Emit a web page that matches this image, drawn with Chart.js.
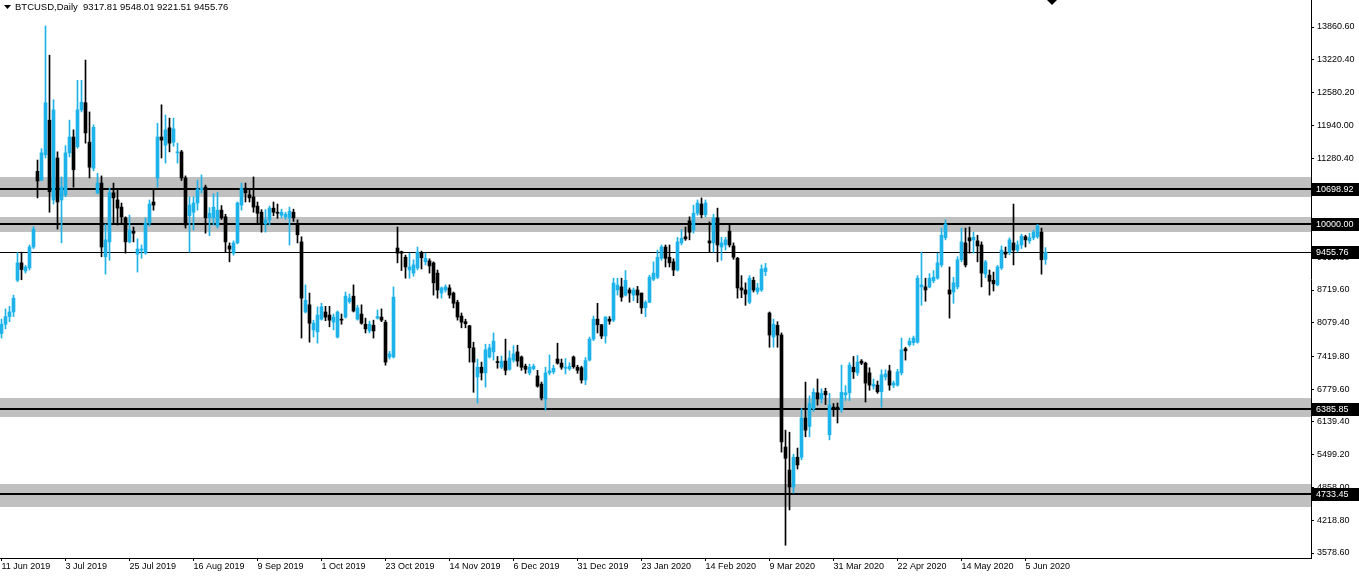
<!DOCTYPE html>
<html>
<head>
<meta charset="utf-8">
<script src="https://cdn.jsdelivr.net/npm/chart.js@4.4.1/dist/chart.umd.min.js"></script>
<style>
  html, body { margin: 0; padding: 0; background: #fff; }
</style>
</head>
<body>
<canvas id="chart" width="1359" height="578"></canvas>
<script>
// BTCUSD daily candles, 11 Jun 2019 .. 12 Jun 2020 (weekdays only)
const opens = [
  7870, 8050, 8200, 8290, 8910, 9250, 9090, 9150, 9560, 11040,
  10870, 11360, 12040, 10480, 11300, 10480, 10580, 11400, 11710, 11520,
  12240, 12380, 11610, 11100, 10620, 10810, 9370, 9660, 10620, 10480,
  10340, 10130, 9660, 9870, 9420, 9500, 9440, 10030, 10440, 10910,
  11710, 11550, 11890, 11610, 11400, 11420, 10910, 10170, 10240, 10420,
  10680, 10730, 10130, 10130, 9970, 10280, 10150, 9580, 9440, 9640,
  10380, 10710, 10580, 10540, 10360, 10240, 10010, 10090, 10320, 10230,
  10180, 10150, 10130, 10240, 9990, 9660, 8290, 8430, 7940, 7900,
  8150, 8290, 8230, 8090, 7800, 8150, 8190, 8490, 8600, 8150,
  8250, 8050, 7920, 8030, 8170, 8190, 8090, 7410, 7410, 9540,
  9470, 9360, 9110, 9050, 9150, 9440, 9270, 9290, 9250, 9050,
  8660, 8720, 8760, 8660, 8480, 8210, 8100, 8020, 7590, 7020,
  7210, 7100, 7410, 7510, 7320, 7210, 7330, 7170, 7350, 7510,
  7410, 7230, 7100, 7180, 7040, 6880, 6590, 7100, 7120, 7370,
  7290, 7190, 7180, 7410, 7210, 7200, 6960, 7350, 7760, 8150,
  8040, 7820, 8150, 8130, 8720, 8780, 8620, 8720, 8620, 8720,
  8660, 8370, 8480, 8930, 8970, 9340, 9560, 9360, 9270, 9110,
  9640, 9760, 10070, 9890, 10220, 10400, 10190, 9680, 9640, 10130,
  9560, 9600, 9870, 9580, 9340, 8760, 8720, 8480, 8910, 8690,
  8720, 9080, 8270, 7800, 8030, 7840, 5650, 5200, 4870, 5450,
  5450, 6220, 6050, 6400, 6710, 6590, 6740, 5890, 6430, 6430,
  6380, 6670, 6710, 7210, 7100, 7330, 7290, 7100, 6840, 6860,
  6730, 7020, 7140, 6860, 6860, 7100, 7570, 7650, 7690, 7700,
  8780, 8780, 8780, 8900, 8950, 9210, 9740, 8720, 8680, 8780,
  9310, 9640, 9740, 9700, 9680, 9600, 9030, 9010, 8910, 8820,
  9150, 9460, 9460, 9640, 9500, 9600, 9760, 9680, 9740, 9760,
  9850, 9317.81
];
const highs = [
  8150, 8350, 8400, 8620, 9450, 9460, 9200, 9600, 9960, 11260,
  11480, 13880, 13310, 12440, 11420, 10930, 11540, 12040, 11850, 12820,
  12820, 13215, 12200, 11950, 11000, 10950, 10010, 10710, 10810, 10700,
  10420, 10150, 10185, 9950, 9720, 9600, 10130, 10480, 10680, 11980,
  12340, 12140, 12080, 12080, 11590, 11450, 10950, 10540, 10540, 10870,
  10970, 10770, 10330, 10600, 10630, 10370, 10200, 9640, 9680, 10440,
  10810, 10810, 10680, 10930, 10440, 10290, 10290, 10360, 10440, 10400,
  10300, 10240, 10340, 10300, 10090, 9760, 8820, 8660, 8130, 8390,
  8460, 8400, 8400, 8250, 8310, 8250, 8680, 8640, 8820, 8420,
  8430, 8170, 8110, 8130, 8330, 8350, 8130, 7520, 8780, 9950,
  9480, 9400, 9440, 9310, 9560, 9480, 9440, 9330, 9270, 9110,
  8780, 8820, 8820, 8680, 8520, 8270, 8150, 8030, 7700, 7370,
  7310, 7660, 7660, 7880, 7420, 7430, 7760, 7530, 7630, 7640,
  7430, 7270, 7270, 7270, 7150, 6920, 7210, 7450, 7250, 7680,
  7370, 7380, 7300, 7430, 7250, 7230, 7400, 7800, 8210, 8460,
  8050, 8200, 8200, 8950, 8950, 8950, 9100, 8760, 8760, 8790,
  8660, 8510, 9010, 9270, 9500, 9600, 9600, 9600, 9330, 9750,
  9900, 9950, 10150, 10380, 10480, 10520, 10480, 10050, 10200, 10320,
  9750, 9750, 10000, 9640, 9360, 9000, 8860, 9000, 8970, 8850,
  9210, 9240, 8290, 8150, 8100, 7880, 5980, 5940, 5510, 5630,
  6400, 6920, 6650, 6790, 6980, 6790, 6800, 6700, 6500, 6510,
  7250, 6850, 7300, 7420, 7440, 7360, 7310, 7200, 6980, 6940,
  7160, 7160, 7250, 6940, 7170, 7780, 7600, 7780, 7820, 9000,
  9460, 8950, 9040, 9100, 9440, 9930, 10090, 9170, 8970, 9370,
  9930, 9930, 9950, 9850, 9790, 9660, 9300, 9110, 9070, 9200,
  9580, 9560, 9740, 10400, 9680, 9810, 9790, 9830, 9890, 10000,
  9930, 9548.01
];
const lows = [
  7780, 7960, 8100, 8200, 8880, 8920, 9050, 9110, 9530, 10520,
  10850, 11300, 10240, 10400, 9910, 9640, 10540, 11320, 10730, 11490,
  12200, 11590, 10910, 11050, 10600, 9370, 9030, 9300, 10030, 9990,
  10030, 9440, 9640, 9660, 9070, 9340, 9420, 9970, 10280, 10730,
  11300, 11200, 11420, 11530, 11200, 10860, 9930, 9460, 9890, 10280,
  10620, 9830, 9780, 9990, 9930, 10100, 9460, 9270, 9400, 9620,
  10280, 10440, 10440, 10240, 10000, 9850, 9850, 9990, 10170, 10120,
  10130, 10100, 9600, 10060, 9640, 7780, 8270, 7700, 7800, 7680,
  8130, 8120, 8000, 7940, 7780, 8050, 8170, 8460, 8290, 8130,
  8050, 7880, 7880, 7780, 8150, 8100, 7250, 7370, 7390, 9250,
  9100, 8950, 8950, 8990, 9110, 9130, 9210, 9050, 8620, 8560,
  8560, 8680, 8560, 8370, 8130, 7980, 7980, 7310, 6720, 6510,
  6960, 6820, 7390, 7350, 7190, 7180, 7060, 7150, 7310, 7230,
  7150, 7090, 7060, 7160, 6820, 6570, 6370, 7060, 7080, 7270,
  7170, 7080, 7150, 7190, 7090, 6900, 6870, 7330, 7730, 7880,
  7770, 7680, 8050, 8100, 8620, 8500, 8600, 8480, 8510, 8470,
  8260, 8200, 8470, 8900, 8940, 9300, 9170, 9170, 9000, 9090,
  9600, 9690, 9700, 9830, 10180, 10130, 10150, 9460, 9460, 9270,
  9300, 9500, 9560, 9320, 8560, 8570, 8420, 8450, 8680, 8640,
  8690, 9000, 7600, 7600, 7600, 5550, 3730, 4420, 4750, 5220,
  5400, 5850, 5850, 6350, 6470, 6510, 6480, 5790, 6250, 6120,
  6330, 6560, 6560, 6990, 7050, 7260, 6530, 6760, 6780, 6700,
  6430, 6960, 6760, 6810, 6840, 7060, 7350, 7620, 7640, 7680,
  8420, 8500, 8760, 8860, 8930, 9170, 9700, 8170, 8460, 8740,
  9270, 9170, 9440, 9440, 9270, 8780, 8960, 8620, 8700, 8800,
  9120, 9350, 9410, 9210, 9460, 9530, 9560, 9630, 9700, 9730,
  9030, 9221.51
];
const closes = [
  8050, 8200, 8290, 8560, 9250, 9120, 9170, 9560, 9910, 10850,
  11400, 12380, 10640, 12240, 10440, 10730, 11400, 11710, 11070, 12240,
  12390, 11790, 11120, 11900, 10810, 9560, 9700, 10620, 10520, 10320,
  10150, 9660, 9890, 9830, 9520, 9520, 10030, 10400, 10380, 11710,
  11650, 11850, 11590, 11870, 11420, 10910, 9990, 10380, 10420, 10690,
  10710, 10130, 10220, 10340, 10280, 10130, 9660, 9520, 9640, 10420,
  10710, 10620, 10520, 10340, 10220, 10030, 10090, 10320, 10240, 10220,
  10240, 10200, 10260, 10130, 9800, 8560, 8520, 8070, 8070, 8230,
  8390, 8190, 8130, 8190, 8290, 8130, 8600, 8560, 8310, 8370,
  8070, 7960, 8050, 7920, 8200, 8130, 7310, 7470, 8580, 9440,
  9440, 9170, 9170, 9210, 9460, 9350, 9340, 9190, 8860, 8720,
  8760, 8780, 8620, 8460, 8190, 8090, 8060, 7590, 7310, 7210,
  7100, 7550, 7590, 7720, 7300, 7330, 7150, 7390, 7470, 7330,
  7210, 7170, 7210, 7230, 6840, 6610, 7100, 7140, 7190, 7290,
  7210, 7210, 7230, 7220, 7150, 6960, 7340, 7760, 8150, 8040,
  7820, 8190, 8110, 8855, 8816, 8580, 8910, 8660, 8720, 8620,
  8370, 8480, 8970, 9050, 9360, 9560, 9340, 9250, 9110, 9660,
  9730, 9720, 9850, 10220, 10420, 10190, 10420, 9640, 10130, 9600,
  9640, 9700, 9600, 9360, 8760, 8720, 8640, 8950, 8720, 8760,
  9130, 9150, 7840, 8050, 7840, 5750, 5430, 4870, 5450, 5300,
  6220, 5980, 6500, 6720, 6590, 6700, 6670, 6470, 6380, 6380,
  6720, 6710, 7250, 7120, 7310, 7290, 6900, 6860, 6880, 6730,
  7060, 7080, 6860, 6900, 7120, 7550, 7530, 7720, 7780, 8950,
  8820, 8720, 8950, 8970, 9250, 9790, 10010, 8640, 8860, 9310,
  9660, 9210, 9680, 9750, 9580, 9050, 9270, 8890, 8840, 9170,
  9500, 9420, 9700, 9500, 9600, 9770, 9700, 9740, 9850, 9970,
  9310, 9455.76
];

// x-axis labels, one every 16 bars
const dateLabels = [
  '11 Jun 2019', '3 Jul 2019', '25 Jul 2019', '16 Aug 2019', '9 Sep 2019',
  '1 Oct 2019', '23 Oct 2019', '14 Nov 2019', '6 Dec 2019', '31 Dec 2019',
  '23 Jan 2020', '14 Feb 2020', '9 Mar 2020', '31 Mar 2020', '22 Apr 2020',
  '14 May 2020', '5 Jun 2020'
];
const dateStep = 16;

// right axis price ticks as printed by the terminal
const priceTicks = [
  13860.60, 13220.40, 12580.20, 11940.00, 11280.40, 10640.20, 10000.00,
  9359.80, 8719.60, 8079.40, 7419.80, 6779.60, 6139.40, 5499.20,
  4858.00, 4218.80, 3578.60
];

// support / resistance zones and levels
const zones = [[10537, 10928], [9853, 10146], [6236, 6608], [4477, 4927]];
const levels = [10698.92, 10000.00, 6385.85, 4733.45];
const lastPrice = 9455.76;
const title = 'BTCUSD,Daily  9317.81 9548.01 9221.51 9455.76';

const BULL = '#1eb4ea';
const BEAR = '#000000';
const FONT = { family: "'Liberation Sans', Arial, sans-serif", size: 9 };

const colors = opens.map((o, i) => closes[i] >= o ? BULL : BEAR);
const wickData = opens.map((o, i) => ({ x: i, y: [lows[i], highs[i]] }));
const bodyData = opens.map((o, i) => ({ x: i, y: [o, closes[i]] }));

const zonesPlugin = {
  id: 'zones',
  beforeDatasetsDraw(chart) {
    const { ctx, chartArea: a, scales: { y } } = chart;
    ctx.save();
    ctx.fillStyle = '#c0c0c0';
    zones.forEach(([lo, hi]) => {
      const t = Math.round(y.getPixelForValue(hi));
      const b = Math.round(y.getPixelForValue(lo));
      ctx.fillRect(a.left, t, a.right - a.left, b - t);
    });
    ctx.fillStyle = '#000';
    levels.forEach(v => {
      const py = Math.round(y.getPixelForValue(v));
      ctx.fillRect(a.left, py - 1, a.right - a.left, 2);
    });
    const lp = Math.round(y.getPixelForValue(lastPrice));
    ctx.fillRect(a.left, lp, a.right - a.left, 1);
    ctx.restore();
  },
  afterDraw(chart) {
    const { ctx, chartArea: a, scales: { x, y } } = chart;
    ctx.save();
    ctx.font = `${FONT.size}px ${FONT.family}`;
    ctx.textBaseline = 'middle';
    // price boxes on the right axis
    [...levels, lastPrice].forEach(v => {
      const py = Math.round(y.getPixelForValue(v));
      ctx.fillStyle = '#000';
      ctx.fillRect(a.right + 1, py - 6, chart.width - a.right - 1, 13);
      ctx.fillStyle = '#fff';
      ctx.fillText(v.toFixed(2), a.right + 5, py + 0.5);
    });
    // title
    ctx.fillStyle = '#000';
    ctx.font = `9.5px ${FONT.family}`;
    ctx.beginPath();
    ctx.moveTo(4, 5); ctx.lineTo(11, 5); ctx.lineTo(7.5, 9); ctx.closePath();
    ctx.fill();
    ctx.fillText(title, 15, 7.5);
    // chart shift marker
    const sx = Math.round(x.getPixelForValue(opens.length + 0.5));
    ctx.beginPath();
    ctx.moveTo(sx - 5, 0); ctx.lineTo(sx + 5, 0); ctx.lineTo(sx, 5); ctx.closePath();
    ctx.fill();
    ctx.restore();
  }
};

new Chart(document.getElementById('chart'), {
  type: 'bar',
  data: {
    datasets: [
      { data: wickData, backgroundColor: colors, barThickness: 1, grouped: false, minBarLength: 1 },
      { data: bodyData, backgroundColor: colors, barThickness: 3, grouped: false, minBarLength: 1 }
    ]
  },
  options: {
    responsive: false,
    devicePixelRatio: 1,
    animation: false,
    layout: { padding: 0 },
    plugins: { legend: { display: false }, tooltip: { enabled: false } },
    scales: {
      x: {
        type: 'linear',
        offset: false,
        min: -0.375,
        max: 327.375,
        afterFit: s => { s.height = 20; s.paddingLeft = 0; s.paddingRight = 0; },
        afterBuildTicks: s => { s.ticks = dateLabels.map((_, k) => ({ value: k * dateStep })); },
        grid: { offset: false, drawOnChartArea: false, drawTicks: true, tickLength: 3, color: '#000' },
        border: { color: '#000' },
        ticks: {
          autoSkip: false, maxRotation: 0, align: 'start', labelOffset: 0, padding: 0,
          color: '#000', font: FONT,
          callback: (v, i) => dateLabels[i]
        }
      },
      y: {
        position: 'right',
        min: 3480.9,
        max: 14388.4,
        afterFit: s => { s.width = 48; s.paddingTop = 0; s.paddingBottom = 0; },
        afterBuildTicks: s => { s.ticks = priceTicks.map(v => ({ value: v })); },
        grid: { drawOnChartArea: false, drawTicks: true, tickLength: 3, color: '#000' },
        border: { color: '#000' },
        ticks: {
          autoSkip: false, padding: 3, color: '#000', font: FONT,
          callback: v => v.toFixed(2)
        }
      }
    }
  },
  plugins: [zonesPlugin]
});
</script>
</body>
</html>
